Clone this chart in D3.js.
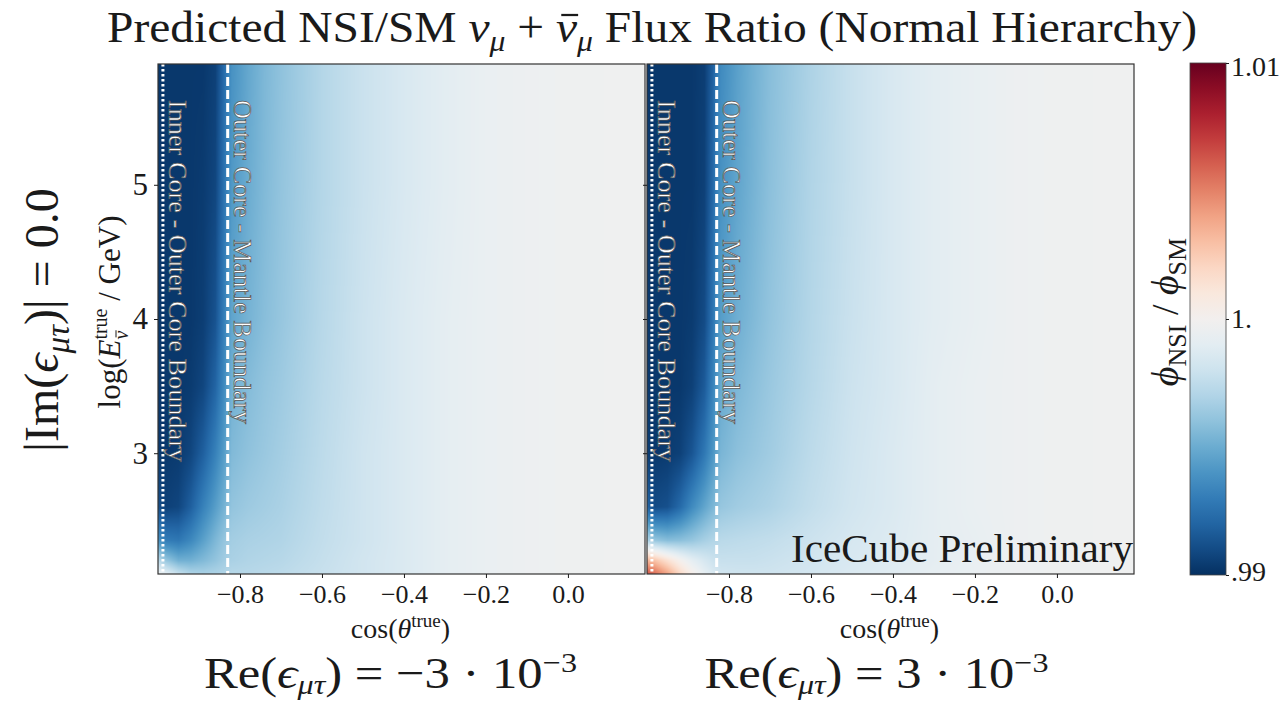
<!DOCTYPE html>
<html>
<head>
<meta charset="utf-8">
<script src="https://cdn.jsdelivr.net/npm/d3@7"></script>
<style>
  body { margin: 0; background: #fff; }
  text { font-family: "Liberation Serif", "DejaVu Serif", serif; }
</style>
</head>
<body>
<svg id="chart" width="1280" height="702"></svg>
<script>
// grid nodes the ratio was read at
var cosNodes = [-1.0, -0.98, -0.95, -0.92, -0.89, -0.86, -0.84, -0.83, -0.82, -0.78, -0.74, -0.7, -0.6, -0.5, -0.4, -0.3, -0.2, -0.1, 0.0, 0.19];
var logENodes = [2.1, 2.2, 2.35, 2.6, 3.0, 3.5, 4.0, 5.0, 5.9];

// flux ratio, Re(eps) = -3e-3 (rows follow logENodes, columns follow cosNodes)
var ratioNeg = [
  [0.9997, 0.9990, 0.9978, 0.9970, 0.9968, 0.9969, 0.9970, 0.9971, 0.9972, 0.9972, 0.9973, 0.9974, 0.9978, 0.9982, 0.9986, 0.9991, 0.9994, 0.9996, 0.9997, 0.9998],
  [0.9974, 0.9962, 0.9952, 0.9952, 0.9956, 0.9961, 0.9965, 0.9967, 0.9968, 0.9970, 0.9971, 0.9972, 0.9977, 0.9982, 0.9986, 0.9991, 0.9994, 0.9996, 0.9997, 0.9998],
  [0.9940, 0.9930, 0.9928, 0.9935, 0.9945, 0.9955, 0.9961, 0.9964, 0.9966, 0.9968, 0.9969, 0.9970, 0.9976, 0.9981, 0.9986, 0.9991, 0.9994, 0.9996, 0.9997, 0.9998],
  [0.9912, 0.9906, 0.9908, 0.9918, 0.9932, 0.9944, 0.9952, 0.9957, 0.9961, 0.9964, 0.9966, 0.9968, 0.9975, 0.9981, 0.9986, 0.9991, 0.9994, 0.9996, 0.9997, 0.9998],
  [0.9904, 0.9903, 0.9904, 0.9908, 0.9918, 0.9932, 0.9943, 0.9950, 0.9956, 0.9960, 0.9963, 0.9966, 0.9974, 0.9981, 0.9986, 0.9991, 0.9994, 0.9996, 0.9997, 0.9998],
  [0.9903, 0.9903, 0.9903, 0.9904, 0.9908, 0.9920, 0.9935, 0.9944, 0.9952, 0.9957, 0.9961, 0.9964, 0.9973, 0.9980, 0.9986, 0.9991, 0.9994, 0.9996, 0.9997, 0.9998],
  [0.9903, 0.9903, 0.9903, 0.9903, 0.9905, 0.9913, 0.9930, 0.9939, 0.9947, 0.9953, 0.9958, 0.9962, 0.9972, 0.9980, 0.9986, 0.9991, 0.9994, 0.9996, 0.9997, 0.9998],
  [0.9903, 0.9903, 0.9903, 0.9903, 0.9904, 0.9908, 0.9925, 0.9934, 0.9942, 0.9950, 0.9956, 0.9961, 0.9971, 0.9979, 0.9985, 0.9990, 0.9994, 0.9996, 0.9997, 0.9998],
  [0.9903, 0.9903, 0.9903, 0.9903, 0.9903, 0.9906, 0.9922, 0.9931, 0.9939, 0.9948, 0.9955, 0.9960, 0.9971, 0.9979, 0.9985, 0.9990, 0.9994, 0.9996, 0.9997, 0.9998]
];

// flux ratio, Re(eps) = +3e-3
var ratioPos = [
  [1.0064, 1.0056, 1.0040, 1.0020, 1.0004, 0.9992, 0.9986, 0.9984, 0.9982, 0.9981, 0.9981, 0.9981, 0.9983, 0.9986, 0.9989, 0.9992, 0.9994, 0.9996, 0.9997, 0.9998],
  [1.0034, 1.0028, 1.0015, 1.0002, 0.9991, 0.9984, 0.9980, 0.9979, 0.9978, 0.9978, 0.9978, 0.9979, 0.9982, 0.9985, 0.9988, 0.9991, 0.9994, 0.9996, 0.9997, 0.9998],
  [0.9970, 0.9962, 0.9958, 0.9959, 0.9962, 0.9967, 0.9970, 0.9971, 0.9973, 0.9974, 0.9975, 0.9976, 0.9980, 0.9984, 0.9987, 0.9991, 0.9993, 0.9996, 0.9997, 0.9998],
  [0.9920, 0.9910, 0.9912, 0.9922, 0.9936, 0.9947, 0.9954, 0.9958, 0.9962, 0.9965, 0.9967, 0.9969, 0.9976, 0.9982, 0.9986, 0.9991, 0.9994, 0.9996, 0.9997, 0.9998],
  [0.9905, 0.9903, 0.9904, 0.9906, 0.9914, 0.9928, 0.9940, 0.9947, 0.9954, 0.9959, 0.9962, 0.9965, 0.9974, 0.9981, 0.9986, 0.9991, 0.9994, 0.9996, 0.9997, 0.9998],
  [0.9903, 0.9903, 0.9903, 0.9903, 0.9906, 0.9916, 0.9932, 0.9941, 0.9949, 0.9955, 0.9959, 0.9963, 0.9972, 0.9980, 0.9985, 0.9991, 0.9994, 0.9996, 0.9997, 0.9998],
  [0.9903, 0.9903, 0.9903, 0.9903, 0.9904, 0.9910, 0.9926, 0.9936, 0.9944, 0.9951, 0.9956, 0.9961, 0.9971, 0.9979, 0.9985, 0.9990, 0.9993, 0.9996, 0.9997, 0.9998],
  [0.9903, 0.9903, 0.9903, 0.9903, 0.9903, 0.9906, 0.9921, 0.9931, 0.9939, 0.9947, 0.9953, 0.9959, 0.9970, 0.9978, 0.9985, 0.9990, 0.9993, 0.9996, 0.9997, 0.9998],
  [0.9903, 0.9903, 0.9903, 0.9903, 0.9903, 0.9905, 0.9918, 0.9928, 0.9936, 0.9945, 0.9952, 0.9958, 0.9969, 0.9978, 0.9985, 0.9990, 0.9993, 0.9996, 0.9997, 0.9998]
];

var xTickValues = [-0.8, -0.6, -0.4, -0.2, 0.0];
var yTickValues = [3, 4, 5];
var cbarTicks = [0.99, 1.0, 1.01];
var cbarLabels = [".99", "1.", "1.01"];
var boundaryCos = [-0.988, -0.83];   // inner/outer core, outer core/mantle
var boundaryNames = ["Inner Core - Outer Core Boundary", "Outer Core - Mantle Boundary"];
var panelRe = ["\u22123", "3"];
var reLen = [373, 344];

var svg = d3.select("#chart");
var ink = "#1a1a1a";

// scales
var y = d3.scaleLinear().domain([2.1, 5.9]).range([574, 64]);
var xPanels = [
  d3.scaleLinear().domain([-1, 0.188]).range([158, 645]),
  d3.scaleLinear().domain([-1, 0.188]).range([647, 1134])
];
var color = d3.scaleSequential(d3.interpolateRdBu).domain([1.01, 0.99]);

// lookup table for the colour map
var lut = d3.range(1024).map(function(i) {
  return d3.rgb(color(0.99 + 0.02 * i / 1023));
});

function sample(grid, c, e) {
  var i = Math.max(0, Math.min(d3.bisectRight(cosNodes, c) - 1, cosNodes.length - 2));
  var j = Math.max(0, Math.min(d3.bisectRight(logENodes, e) - 1, logENodes.length - 2));
  var tx = Math.max(0, Math.min(1, (c - cosNodes[i]) / (cosNodes[i + 1] - cosNodes[i])));
  var ty = Math.max(0, Math.min(1, (e - logENodes[j]) / (logENodes[j + 1] - logENodes[j])));
  return grid[j][i] * (1 - tx) * (1 - ty) + grid[j][i + 1] * tx * (1 - ty) +
         grid[j + 1][i] * (1 - tx) * ty + grid[j + 1][i + 1] * tx * ty;
}

function heatmapImage(grid, xs) {
  var x0 = xs.range()[0], w = Math.round(xs.range()[1] - x0);
  var y0 = y.range()[1], h = Math.round(y.range()[0] - y0);
  var canvas = document.createElement("canvas");
  canvas.width = w; canvas.height = h;
  var ctx = canvas.getContext("2d");
  var img = ctx.createImageData(w, h);
  for (var py = 0; py < h; py++) {
    var e = y.invert(y0 + py + 0.5);
    for (var px = 0; px < w; px++) {
      var v = sample(grid, xs.invert(x0 + px + 0.5), e);
      var k = Math.round((v - 0.99) / 0.02 * 1023);
      var c = lut[Math.max(0, Math.min(1023, k))];
      var o = (py * w + px) * 4;
      img.data[o] = c.r; img.data[o + 1] = c.g; img.data[o + 2] = c.b; img.data[o + 3] = 255;
    }
  }
  ctx.putImageData(img, 0, 0);
  return canvas.toDataURL();
}

function styleAxis(g, size) {
  g.attr("font-family", null).attr("font-size", null);
  g.select(".domain").remove();
  g.selectAll(".tick line").attr("stroke", ink);
  g.selectAll(".tick text").attr("fill", ink).style("font-size", size + "px");
}

// bar over one character of a text (for the anti-neutrino)
function overbar(parent, textSel, idx, baseY, size) {
  var ext = textSel.node().getExtentOfChar(idx);
  var yb = baseY - 0.6 * size;
  parent.append("line")
    .attr("x1", ext.x + ext.width * 0.25).attr("x2", ext.x + ext.width * 1.05)
    .attr("y1", yb).attr("y2", yb)
    .attr("stroke", ink).attr("stroke-width", Math.max(1, size * 0.05));
}

var grids = [ratioNeg, ratioPos];
var fmt = function(d) { return d === 0 ? "0.0" : "\u2212" + Math.abs(d).toFixed(1); };

xPanels.forEach(function(xs, p) {
  var g = svg.append("g");
  g.append("image")
    .attr("x", xs.range()[0]).attr("y", y.range()[1])
    .attr("width", xs.range()[1] - xs.range()[0])
    .attr("height", y.range()[0] - y.range()[1])
    .attr("preserveAspectRatio", "none")
    .attr("href", heatmapImage(grids[p], xs));

  // boundary lines
  g.append("line")
    .attr("x1", xs(boundaryCos[0])).attr("x2", xs(boundaryCos[0]))
    .attr("y1", y.range()[1]).attr("y2", y.range()[0])
    .attr("stroke", "#fff").attr("stroke-width", 3).attr("stroke-dasharray", "2.6,2.4");
  g.append("line")
    .attr("x1", xs(boundaryCos[1])).attr("x2", xs(boundaryCos[1]))
    .attr("y1", y.range()[1]).attr("y2", y.range()[0])
    .attr("stroke", "#fff").attr("stroke-width", 3).attr("stroke-dasharray", "9,4");

  // boundary labels (rotated, reading downwards)
  var lens = [362, 324];
  boundaryCos.forEach(function(c, i) {
    g.append("text")
      .attr("transform", "translate(" + (xs(c) + 6) + ",100) rotate(90)")
      .attr("font-size", 25)
      .attr("textLength", lens[i]).attr("lengthAdjust", "spacingAndGlyphs")
      .attr("fill", "#fff").attr("stroke", "#555").attr("stroke-width", 0.7)
      .text(boundaryNames[i]);
  });

  // frame
  g.append("rect")
    .attr("x", xs.range()[0]).attr("y", y.range()[1])
    .attr("width", xs.range()[1] - xs.range()[0])
    .attr("height", y.range()[0] - y.range()[1])
    .attr("fill", "none").attr("stroke", "#333").attr("stroke-width", 1.2);

  // axes
  var gx = g.append("g")
    .attr("transform", "translate(0," + y.range()[0] + ")")
    .call(d3.axisBottom(xs).tickValues(xTickValues).tickFormat(fmt).tickSize(4).tickPadding(7));
  styleAxis(gx, 26);

  var gy = g.append("g")
    .attr("transform", "translate(" + xs.range()[0] + ",0)")
    .call(d3.axisLeft(y).tickValues(yTickValues).tickSize(4).tickPadding(6)
      .tickFormat(p === 0 ? d3.format("d") : function() { return ""; }));
  styleAxis(gy, 31);

  // x label
  var cx = (xs.range()[0] + xs(0.188)) / 2 - 1;
  var xl = g.append("text").attr("x", cx).attr("y", 638)
    .attr("text-anchor", "middle").attr("font-size", 28).attr("fill", ink);
  xl.append("tspan").text("cos(");
  xl.append("tspan").attr("font-style", "italic").text("\u03B8");
  xl.append("tspan").attr("dy", -11).attr("font-size", 19).text("true");
  xl.append("tspan").attr("dy", 11).text(")");

  // Re(eps) label
  var rl = g.append("text").attr("x", cx - (p === 0 ? 10 : 13)).attr("y", 688)
    .attr("text-anchor", "middle").attr("font-size", 44).attr("fill", ink)
    .attr("textLength", reLen[p]).attr("lengthAdjust", "spacingAndGlyphs");
  rl.append("tspan").text("Re(");
  rl.append("tspan").attr("font-style", "italic").text("\u03F5");
  rl.append("tspan").attr("dy", 6).attr("font-size", 28).attr("font-style", "italic").text("\u03BC\u03C4");
  rl.append("tspan").attr("dy", -6).text(") = " + panelRe[p] + " \u00B7 10");
  rl.append("tspan").attr("dy", -16).attr("font-size", 28).text("\u22123");
});

// IceCube Preliminary
svg.append("text").attr("x", 1133).attr("y", 562)
  .attr("text-anchor", "end").attr("font-size", 40).attr("fill", ink)
  .attr("textLength", 342).attr("lengthAdjust", "spacingAndGlyphs")
  .text("IceCube Preliminary");

// title
var title = svg.append("text").attr("x", 652).attr("y", 42)
  .attr("text-anchor", "middle").attr("font-size", 45).attr("fill", ink)
  .attr("textLength", 1090).attr("lengthAdjust", "spacingAndGlyphs");
title.append("tspan").text("Predicted NSI/SM ");
title.append("tspan").attr("font-style", "italic").text("\u03BD");
title.append("tspan").attr("dy", 9).attr("font-size", 30).attr("font-style", "italic").text("\u03BC");
title.append("tspan").attr("dy", -9).text(" + ");
title.append("tspan").attr("font-style", "italic").text("\u03BD");
title.append("tspan").attr("dy", 9).attr("font-size", 30).attr("font-style", "italic").text("\u03BC");
title.append("tspan").attr("dy", -9).text(" Flux Ratio (Normal Hierarchy)");
overbar(svg, title, 22, 42, 45);

// y axis label
var ylg = svg.append("g").attr("transform", "translate(120,312) rotate(-90)");
var yl = ylg.append("text").attr("x", 0).attr("y", 0)
  .attr("text-anchor", "middle").attr("font-size", 31).attr("fill", ink);
yl.append("tspan").text("log(");
yl.append("tspan").attr("font-style", "italic").text("E");
var sup = yl.append("tspan").attr("dy", -13).attr("font-size", 20).text("true");
var sub = yl.append("tspan").attr("dy", 21).attr("font-size", 20).attr("font-style", "italic").text("\u03BD");
var rest = yl.append("tspan").attr("dy", -8).text(" / GeV)");
var supLen = sup.node().getComputedTextLength();
var subLen = sub.node().getComputedTextLength();
sub.attr("dx", -supLen);
rest.attr("dx", Math.max(0, supLen - subLen));
overbar(ylg, yl, 9, 8, 20);

// row label
var il = svg.append("text").attr("transform", "translate(58,320) rotate(-90)")
  .attr("text-anchor", "middle").attr("font-size", 48).attr("fill", ink);
il.append("tspan").text("|Im(");
il.append("tspan").attr("font-style", "italic").text("\u03F5");
il.append("tspan").attr("dy", 11).attr("font-size", 33).attr("font-style", "italic").text("\u03BC\u03C4");
il.append("tspan").attr("dy", -11).text(")| = 0.0");

// colour bar
var cbY = d3.scaleLinear().domain([0.99, 1.01]).range([575, 63]);
var defs = svg.append("defs");
var grad = defs.append("linearGradient").attr("id", "cbar")
  .attr("x1", 0).attr("x2", 0).attr("y1", 1).attr("y2", 0);
d3.range(0, 1.0001, 0.05).forEach(function(t) {
  grad.append("stop").attr("offset", t).attr("stop-color", color(0.99 + 0.02 * t));
});
svg.append("rect").attr("x", 1190).attr("y", cbY(1.01))
  .attr("width", 36).attr("height", cbY(0.99) - cbY(1.01))
  .attr("fill", "url(#cbar)").attr("stroke", "#444").attr("stroke-width", 0.8);
var gc = svg.append("g").attr("transform", "translate(1226,0)")
  .call(d3.axisRight(cbY).tickValues(cbarTicks).tickSize(3).tickPadding(2)
    .tickFormat(function(d, i) { return cbarLabels[i]; }));
styleAxis(gc, 28);
gc.selectAll(".tick text").filter(function(d) { return d === 1.01; }).attr("dy", "0.45em");
gc.selectAll(".tick text").filter(function(d) { return d === 0.99; }).attr("dy", "0.2em");

var cl = svg.append("text").attr("transform", "translate(1178,312) rotate(-90)")
  .attr("text-anchor", "middle").attr("font-size", 38).attr("fill", ink);
cl.append("tspan").attr("font-style", "italic").text("\u03D5");
cl.append("tspan").attr("dy", 8).attr("font-size", 26).text("NSI");
cl.append("tspan").attr("dy", -8).text(" / ");
cl.append("tspan").attr("font-style", "italic").text("\u03D5");
cl.append("tspan").attr("dy", 8).attr("font-size", 26).text("SM");
</script>
</body>
</html>
